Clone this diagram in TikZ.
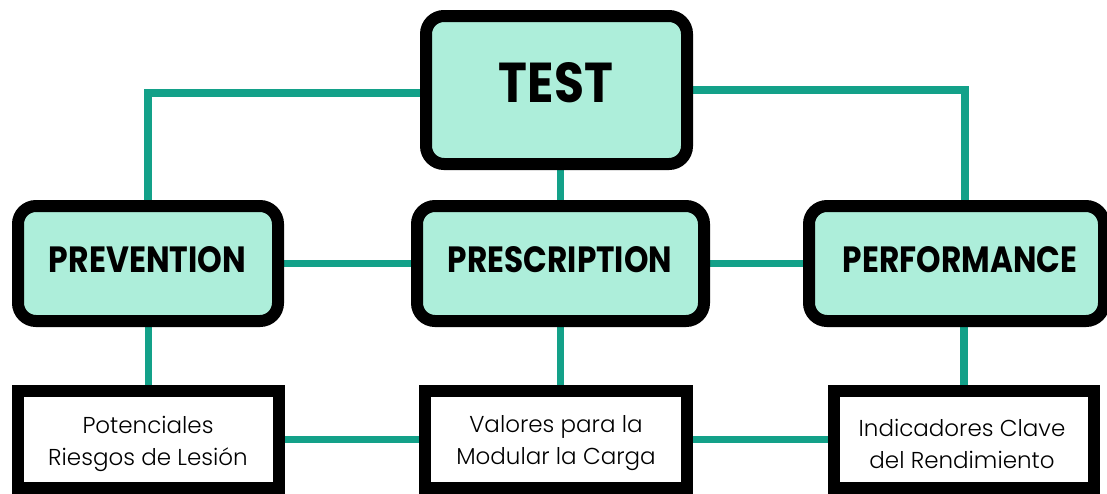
\documentclass[tikz,border=0pt]{standalone}
\usepackage{fontspec}
\usepackage{graphicx}
\setmainfont{Poppins}
\newfontfamily\lightfont{Poppins Light}
\usetikzlibrary{backgrounds}
\definecolor{mint}{HTML}{ADEEDA}
\definecolor{teal}{HTML}{13A189}
% uppercase heading squeezed to a given width and cap height
\newcommand{\headtext}[3]{\resizebox{#1pt}{#2pt}{\bfseries #3}}
\tikzset{
  headbox/.style={draw=black, line width=12pt, fill=mint, rounded corners=18pt,
    inner sep=0pt, minimum width=#1},
  notebox/.style={draw=black, line width=12pt, fill=white, inner sep=0pt,
    minimum height=97pt, minimum width=#1},
  link/.style={draw=teal, line width=7.5pt},
  notetext/.style={font=\lightfont\fontsize{23}{32}\selectfont, align=center, text=black},
}
\begin{document}
\begin{tikzpicture}[x=1pt, y=-1pt]
\useasboundingbox (0,0) rectangle (1107,493);

% main test box
\node[headbox=261pt, minimum height=148pt] (test) at (556.5,90) {};
\node (testlbl) at (556,83) {\headtext{114}{40}{TEST}};

% three headings
\node[headbox=260pt, minimum height=115pt] (prev) at (148,263.5) {};
\node[headbox=287pt, minimum height=115pt] (presc) at (560.5,263.5) {};
\node[headbox=295pt, minimum height=115pt] (perf) at (956.5,263.5) {};
\node (prevlbl) at (147.5,260) {\headtext{197}{26}{PREVENTION}};
\node (presclbl) at (560,260) {\headtext{224}{26}{PRESCRIPTION}};
\node (perflbl) at (960,260) {\headtext{234}{26}{PERFORMANCE}};

% notes below each heading
\node[notebox=261pt] (nprev) at (148.5,439.5) {};
\node[notebox=262pt] (npresc) at (556,439.5) {};
\node[notebox=260pt] (nperf) at (964,439.5) {};
\node[notetext] (nprevlbl) at (148,443.5) {Potenciales\\Riesgos de Lesión};
\node[notetext] (nprescllbl) at (556,443.5) {Valores para la\\Modular la Carga};
\node[notetext] (nperflbl) at (962,443.5) {Indicadores Clave\\del Rendimiento};

\begin{scope}[on background layer]
  \fill[white] (0,0) rectangle (1107,493);
  % connectors from the test box
  \draw[link] ([yshift=-3pt]test.west) -| (prev.north);
  \draw[link] (test.east) -| ([xshift=8.5pt]perf.north);
  \draw[link] (test.south -| presc.north) -- (presc.north);
  % connectors between the headings
  \draw[link] (prev.east) -- (presc.west);
  \draw[link] (presc.east) -- (perf.west);
  % headings down to their notes
  \draw[link] (prev.south -| nprev.north) -- (nprev.north);
  \draw[link] (presc.south) -- (presc.south |- npresc.north);
  \draw[link] (nperf.north |- perf.south) -- (nperf.north);
  % connectors between the notes
  \draw[link] (nprev.east) -- (npresc.west);
  \draw[link] (npresc.east) -- (nperf.west);
\end{scope}
\end{tikzpicture}
\end{document}
